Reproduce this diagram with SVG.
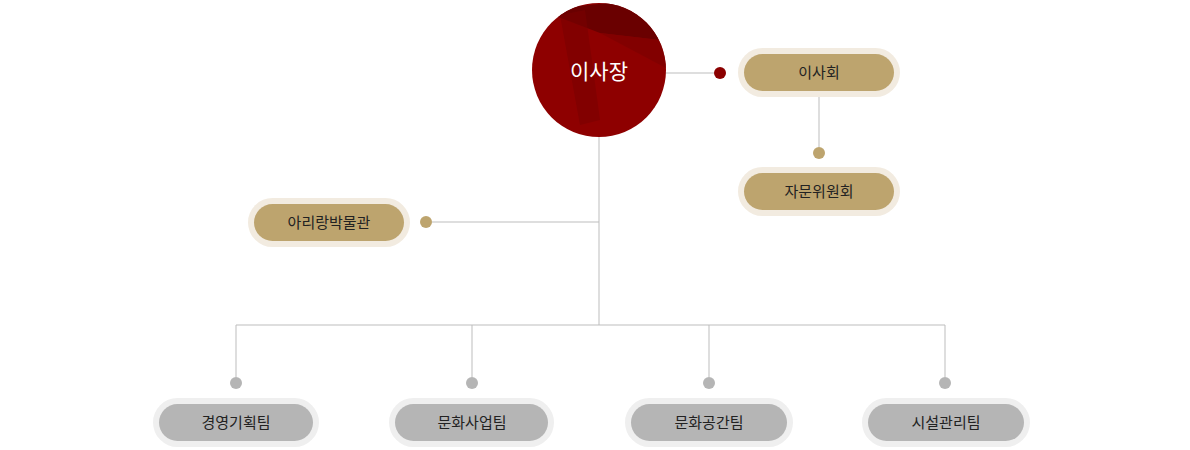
<svg xmlns="http://www.w3.org/2000/svg" width="1190" height="450" viewBox="0 0 1190 450">
<style>
text{font-family:"Noto Sans CJK KR","Noto Sans",sans-serif;font-size:15px;text-anchor:middle;fill:#222}
.ln{stroke:#bdbdbd;stroke-width:1;fill:none}
.go{fill:#f2ebe0}.gi{fill:#bda46e}
.so{fill:#efefef}.si{fill:#b5b5b5}
</style>
<rect width="1190" height="450" fill="#fff"/>
<g id="connectors">
<path class="ln" d="M666 73H714M819 97V147M599 137V325M432 222H599M236 325H945M236 325V377M472 325V377M709 325V377M945 325V377"/>
<circle cx="720" cy="73" r="6" fill="#8b0000"/>
<circle cx="819" cy="153" r="6" fill="#bda46e"/>
<circle cx="426" cy="222" r="6" fill="#bda46e"/>
<circle cx="236" cy="383" r="6" fill="#b5b5b5"/>
<circle cx="472" cy="383" r="6" fill="#b5b5b5"/>
<circle cx="709" cy="383" r="6" fill="#b5b5b5"/>
<circle cx="945" cy="383" r="6" fill="#b5b5b5"/>
</g>
<g id="chairman">
<defs><clipPath id="c"><circle cx="599" cy="70" r="67"/></clipPath></defs>
<circle cx="599" cy="70" r="67" fill="#8e0000"/>
<g clip-path="url(#c)">
<polygon points="540,10 640,0 660,40 600,33" fill="#6a0000"/>
<polygon points="560,15 585,10 600,120 580,125" fill="#7a0000" opacity="0.6"/>
<polygon points="600,33 660,40 670,70" fill="#7d0000" opacity="0.7"/>
</g>
<text x="599" y="79" style="font-size:21px;fill:#fff">이사장</text>
</g>
<g id="board"><rect class="go" x="738" y="48" width="162" height="49" rx="24.5"/><rect class="gi" x="744" y="54" width="150" height="37" rx="18.5"/><text x="819" y="78">이사회</text></g>
<g id="advisory"><rect class="go" x="738" y="167" width="162" height="49" rx="24.5"/><rect class="gi" x="744" y="173" width="150" height="37" rx="18.5"/><text x="819" y="197">자문위원회</text></g>
<g id="museum"><rect class="go" x="248" y="198" width="162" height="49" rx="24.5"/><rect class="gi" x="254" y="204" width="150" height="37" rx="18.5"/><text x="329" y="228">아리랑박물관</text></g>
<g id="team1"><rect class="so" x="153" y="398" width="166" height="49" rx="24.5"/><rect class="si" x="159" y="404" width="154" height="37" rx="18.5"/><text x="236" y="428">경영기획팀</text></g>
<g id="team2"><rect class="so" x="389" y="398" width="165" height="49" rx="24.5"/><rect class="si" x="395" y="404" width="153" height="37" rx="18.5"/><text x="472" y="428">문화사업팀</text></g>
<g id="team3"><rect class="so" x="625" y="398" width="168" height="49" rx="24.5"/><rect class="si" x="631" y="404" width="156" height="37" rx="18.5"/><text x="709" y="428">문화공간팀</text></g>
<g id="team4"><rect class="so" x="862" y="398" width="168" height="49" rx="24.5"/><rect class="si" x="868" y="404" width="156" height="37" rx="18.5"/><text x="946" y="428">시설관리팀</text></g>
</svg>
